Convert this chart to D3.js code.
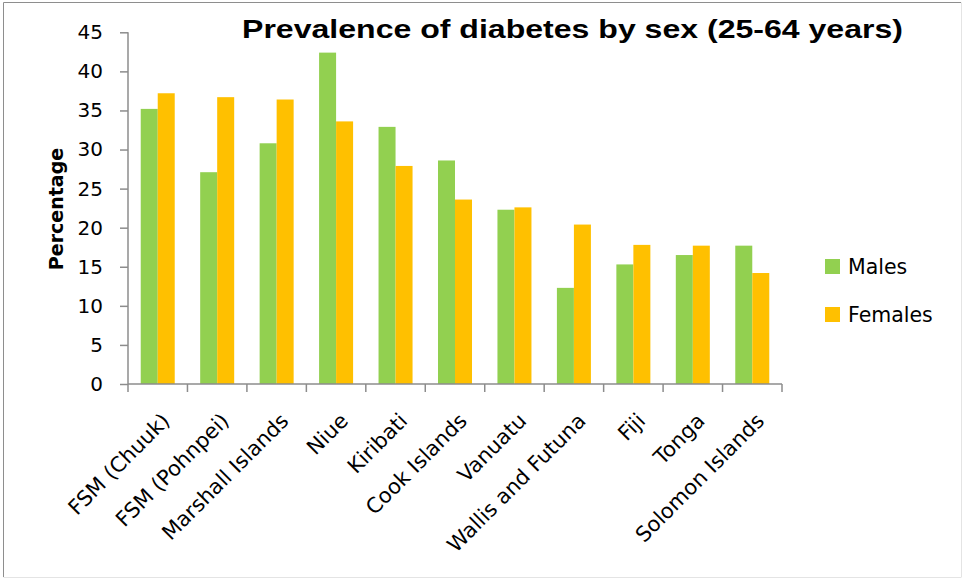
<!DOCTYPE html>
<html>
<head>
<meta charset="utf-8">
<script src="https://cdn.jsdelivr.net/npm/d3@7"></script>
<style>
html,body{margin:0;padding:0;background:#fff;}
svg{display:block;}
</style>
</head>
<body>
<script>
const categories = ["FSM (Chuuk)","FSM (Pohnpei)","Marshall Islands","Niue","Kiribati","Cook Islands","Vanuatu","Wallis and Futuna","Fiji","Tonga","Solomon Islands"];
const males   = [35.2, 27.1, 30.8, 42.4, 32.9, 28.6, 22.3, 12.3, 15.3, 16.5, 17.7];
const females = [37.2, 36.7, 36.4, 33.6, 27.9, 23.6, 22.6, 20.4, 17.8, 17.7, 14.2];
const seriesNames = ["Males","Females"];
const yTicks = [0,5,10,15,20,25,30,35,40,45];
const titleText = "Prevalence of diabetes by sex (25-64 years)";
const yLabel = "Percentage";

const W = 962, H = 578;
const colors = {Males:"#92D050", Females:"#FFC000"};
const axisColor = "#8C8C8C";

const svg = d3.select("body").append("svg").attr("width",W).attr("height",H);

// outer frame
svg.append("line").attr("x1",3.5).attr("x2",3.5).attr("y1",2.5).attr("y2",577).attr("stroke","#8E8E8E").attr("stroke-width",1);
svg.append("line").attr("x1",3.5).attr("x2",961).attr("y1",2.5).attr("y2",2.5).attr("stroke","#8E8E8E").attr("stroke-width",1);
svg.append("line").attr("x1",961.5).attr("x2",961.5).attr("y1",2.5).attr("y2",577).attr("stroke","#E4E4E4").attr("stroke-width",1);
svg.append("line").attr("x1",3.5).attr("x2",961.5).attr("y1",577.5).attr("y2",577.5).attr("stroke","#E4E4E4").attr("stroke-width",1);

const x0 = d3.scaleBand().domain(categories).range([128,782]).paddingInner(0.428).paddingOuter(0.214);
const x1 = d3.scaleBand().domain(seriesNames).range([0,x0.bandwidth()]);
const y = d3.scaleLinear().domain([0,45]).range([384,32.3]);

const data = categories.map((c,i)=>({cat:c, vals:[{s:"Males",v:males[i]},{s:"Females",v:females[i]}]}));

// bars
const g = svg.append("g");
g.selectAll("g.grp").data(data).join("g").attr("class","grp")
  .attr("transform",d=>`translate(${x0(d.cat)},0)`)
  .selectAll("rect").data(d=>d.vals).join("rect")
  .attr("x",d=>x1(d.s)).attr("width",x1.bandwidth())
  .attr("y",d=>y(d.v)).attr("height",d=>y(0)-y(d.v))
  .attr("fill",d=>colors[d.s]);

// y axis
const yAxis = d3.axisLeft(y).tickValues(yTicks).tickSize(8).tickPadding(17).tickFormat(d3.format("d"));
const ya = svg.append("g").attr("transform","translate(128,0)").call(yAxis);
ya.select(".domain").attr("stroke",axisColor).attr("stroke-width",1.5).attr("d",`M0,${y(45)}V${y(0)}`);
ya.selectAll(".tick line").attr("stroke",axisColor).attr("stroke-width",1.5);
ya.selectAll(".tick text").attr("font-family","DejaVu Sans").attr("font-size",20).attr("fill","#000");

// x axis
const xa = svg.append("g").attr("transform","translate(0,384)");
xa.append("line").attr("x1",128).attr("x2",782).attr("y1",0).attr("y2",0).attr("stroke",axisColor).attr("stroke-width",1.5);
const step = x0.step();
const boundaries = d3.range(categories.length+1).map(i=>128+i*step);
xa.selectAll("line.tk").data(boundaries).join("line").attr("class","tk")
  .attr("x1",d=>d).attr("x2",d=>d).attr("y1",0).attr("y2",8)
  .attr("stroke",axisColor).attr("stroke-width",1.5);

// x labels
svg.append("g").selectAll("text").data(categories).join("text")
  .attr("transform",d=>`translate(${x0(d)+x0.bandwidth()/2+8},417) rotate(-45)`)
  .attr("text-anchor","end").attr("dy","0.35em")
  .attr("font-family","DejaVu Sans").attr("font-size",21).attr("fill","#000")
  .text(d=>d);

// y label
svg.append("text")
  .attr("transform","translate(63,209) rotate(-90)")
  .attr("text-anchor","middle")
  .attr("font-family","DejaVu Sans").attr("font-weight","bold").attr("font-size",19)
  .attr("fill","#000").text(yLabel);

// title
svg.append("text").attr("x",242).attr("y",38)
  .attr("font-family","Liberation Sans").attr("font-weight","bold").attr("font-size",26)
  .attr("textLength",661).attr("lengthAdjust","spacingAndGlyphs")
  .attr("fill","#000").text(titleText);

// legend
const leg = svg.append("g");
seriesNames.forEach((s,i)=>{
  const yy = 259 + i*48;
  leg.append("rect").attr("x",825).attr("y",yy).attr("width",15).attr("height",15).attr("fill",colors[s]);
  leg.append("text").attr("x",848).attr("y",yy+14.5)
    .attr("font-family","DejaVu Sans").attr("font-size",20.5).attr("fill","#000").text(s);
});
</script>
</body>
</html>
